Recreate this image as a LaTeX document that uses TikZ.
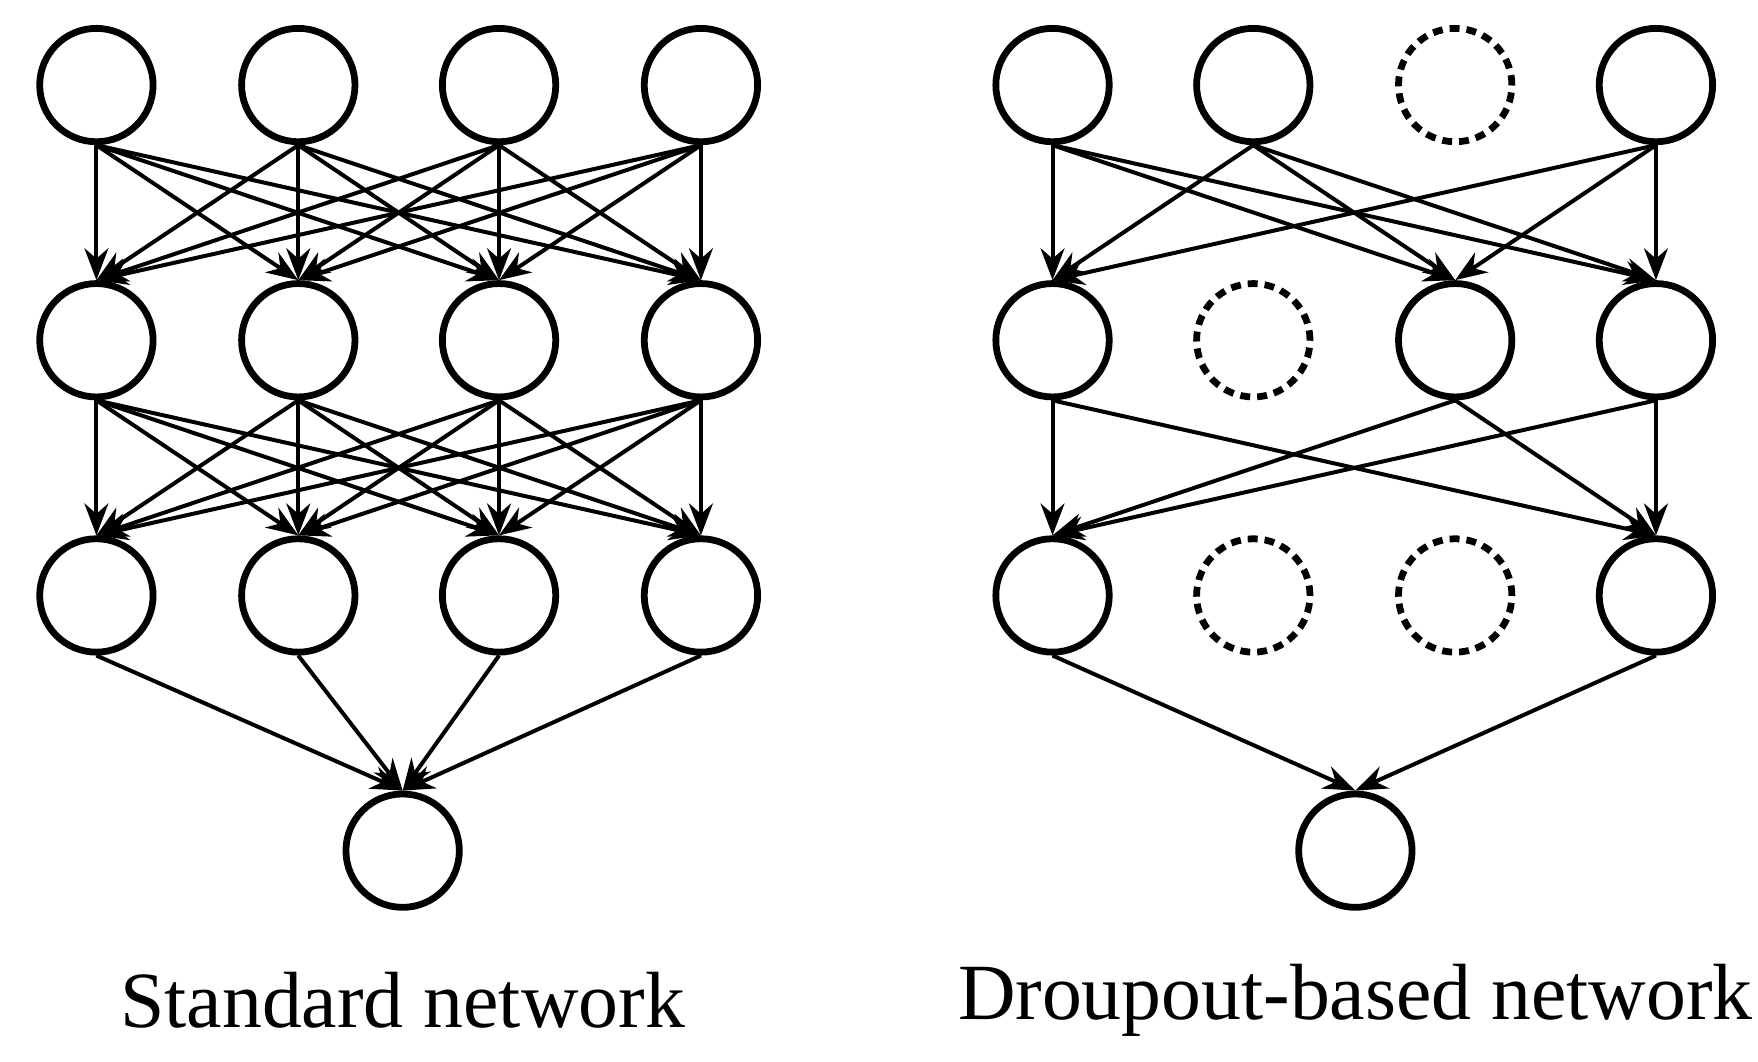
\documentclass[tikz,border=0pt]{standalone}
\usepackage{fontspec}
\setmainfont{Liberation Serif}
\usetikzlibrary{arrows.meta}
\begin{document}
\begin{tikzpicture}[x=0.02cm,y=-0.02cm,
  neu/.style={circle,draw,line width=3.4pt,minimum size=2.0cm,inner sep=0pt},
  drop/.style={neu,dash pattern=on 5pt off 3.5pt},
  con/.style={line width=2pt,-{Stealth[length=16pt,width=12pt]}},
  lab/.style={font=\fontsize{40}{44}\selectfont}]
\useasboundingbox (0,0) rectangle (1550,936);
% left
\foreach \c/\x in {1/85,2/263,3/440,4/618}{
  \node[neu] (a\c) at (\x,75) {};
  \node[neu] (b\c) at (\x,300) {};
  \node[neu] (c\c) at (\x,525) {};}
\node[neu] (o) at (355,750) {};
\foreach \i in {1,...,4}{\foreach \j in {1,...,4}{
  \draw[con] (a\i.south) -- (b\j.north);
  \draw[con] (b\i.south) -- (c\j.north);}
  \draw[con] (c\i.south) -- (o.north);}
\node[lab] (t1) at (355,882) {Standard network};
% right
\node[neu] (p1) at (928,75) {};
\node[neu] (p2) at (1105,75) {};
\node[drop] (p3) at (1283,75) {};
\node[neu] (p4) at (1460,75) {};
\node[neu] (q1) at (928,300) {};
\node[drop] (q2) at (1105,300) {};
\node[neu] (q3) at (1283,300) {};
\node[neu] (q4) at (1460,300) {};
\node[neu] (r1) at (928,525) {};
\node[drop] (r2) at (1105,525) {};
\node[drop] (r3) at (1283,525) {};
\node[neu] (r4) at (1460,525) {};
\node[neu] (po) at (1195,750) {};
\foreach \i in {1,2,4}{\foreach \j in {1,3,4}{\draw[con] (p\i.south) -- (q\j.north);}}
\foreach \i in {1,3,4}{\foreach \j in {1,4}{\draw[con] (q\i.south) -- (r\j.north);}}
\draw[con] (r1.south) -- (po.north);
\draw[con] (r4.south) -- (po.north);
\node[lab] (t2) at (1195,882) {Droupout-based network};
\end{tikzpicture}
\end{document}
